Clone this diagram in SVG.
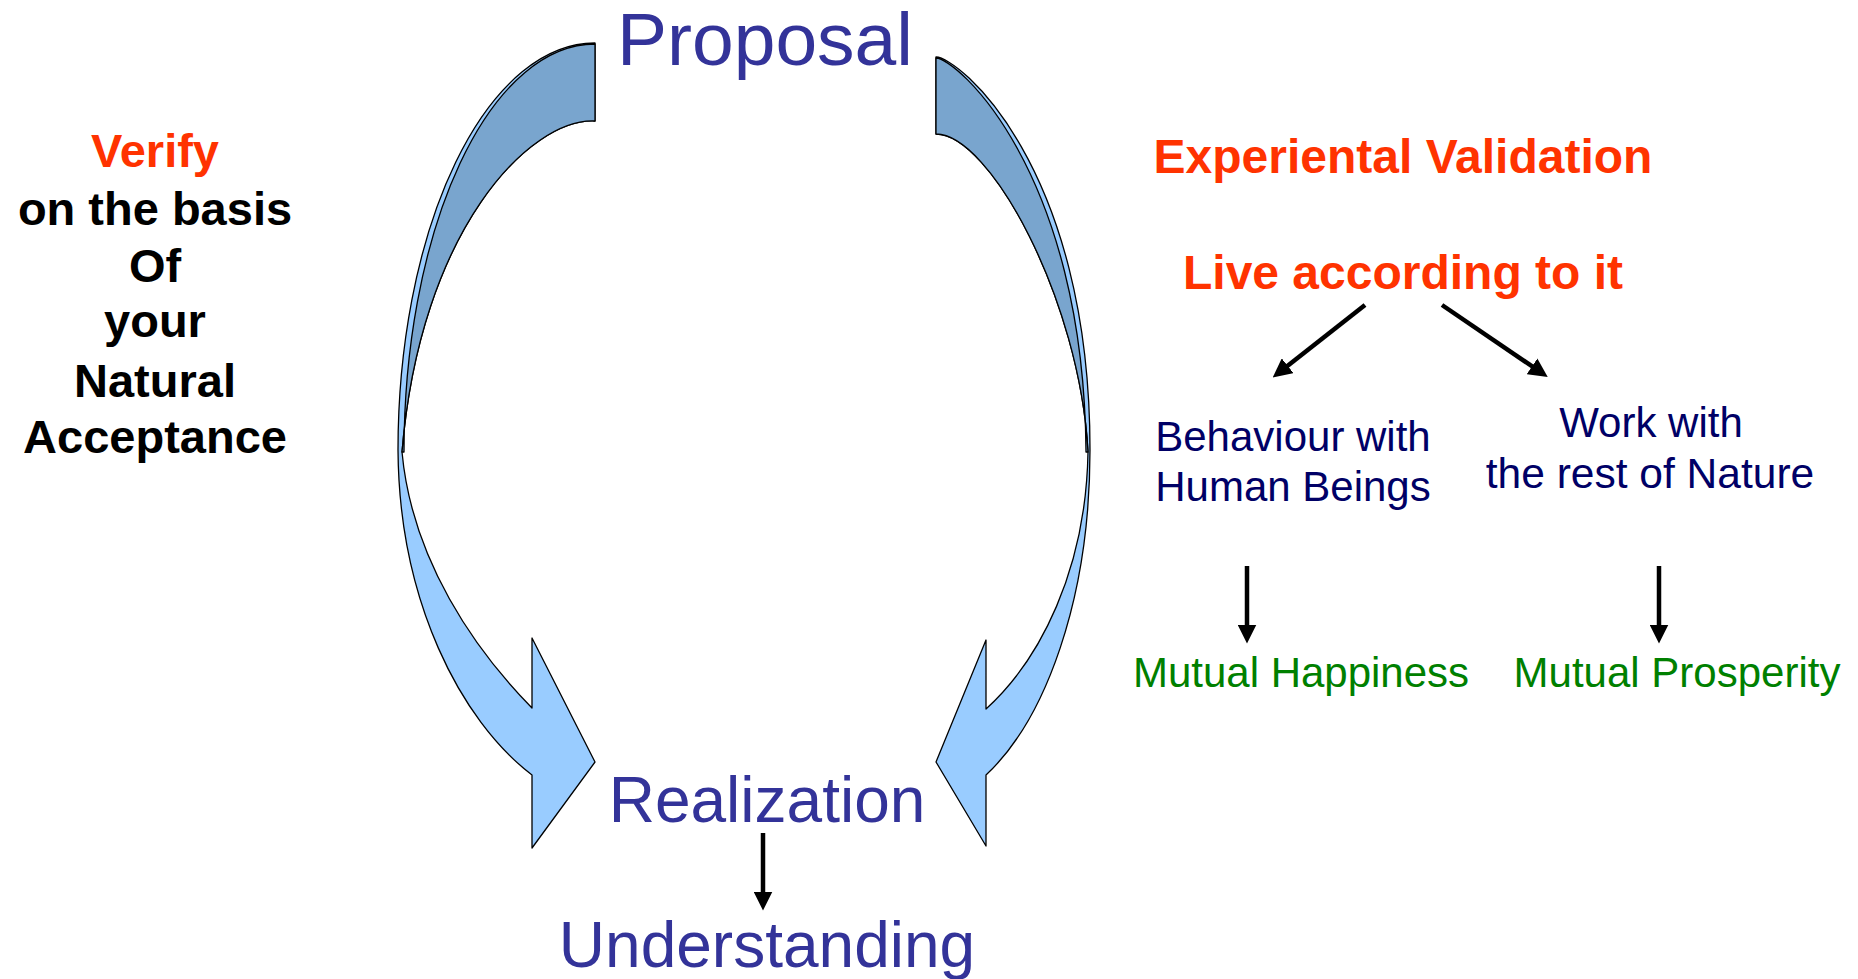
<svg xmlns="http://www.w3.org/2000/svg" width="1858" height="979" viewBox="0 0 1858 979">
<style>
.light{fill:#99CCFF;stroke:#000;stroke-width:1.3;stroke-linejoin:round}
.dark{fill:#79A5CE;stroke:#000;stroke-width:1.3;stroke-linejoin:round}
.big{font-family:"Liberation Sans",Arial,sans-serif;fill:#333399;text-anchor:middle}
.bold{font-family:"Liberation Sans",Arial,sans-serif;font-weight:bold;font-size:47px;text-anchor:middle}
.red{fill:#FF3300}
.blk{fill:#000}
.navy{font-family:"Liberation Sans",Arial,sans-serif;font-size:42px;fill:#000066;text-anchor:middle}
.green{font-family:"Liberation Sans",Arial,sans-serif;font-size:42px;fill:#008000;text-anchor:middle}
.conn{stroke:#000;stroke-width:4.5;fill:none;marker-end:url(#ah)}
</style>
<defs>
<marker id="ah" viewBox="0 0 18 18" refX="8" refY="9" markerWidth="19" markerHeight="19" markerUnits="userSpaceOnUse" orient="auto">
<path d="M0,0 L18,9 L0,18 Z" fill="#000"/>
</marker>
</defs>
<rect width="1858" height="979" fill="#fff"/>
<g id="left-arrow">
<path class="light" d="M595,43 A197 407 0 0 0 398,450 C399,600 460,720 532,775 L532,848 L595,762 L532,638 L532,708 C475,650 412,560 402,452 C420,230 530,118 595,121 Z"/>
<path class="dark" d="M595,44 A191 408 0 0 0 404,452 L402,452 C420,230 530,118 595,121 Z"/>
</g>
<g id="right-arrow">
<path class="light" d="M936,57 C958,57 1090,165 1090,450 C1090,600 1045,720 986,775 L986,846 L936,762 L986,640 L986,709 C1040,660 1086,570 1088,452 C1080,300 990,134 936,134 Z"/>
<path class="dark" d="M936,58 C956,58 1084,170 1086,452 L1088,452 C1080,300 990,134 936,134 Z"/>
</g>
<g id="proposal"><text class="big" x="765" y="65" font-size="75">Proposal</text></g>
<g id="realization"><text class="big" x="767" y="822" font-size="64">Realization</text></g>
<g id="understanding"><text class="big" x="767" y="967" font-size="64">Understanding</text></g>
<g id="verify">
<text class="bold red" x="155" y="167">Verify</text>
<text class="bold blk" x="155" y="225">on the basis</text>
<text class="bold blk" x="155" y="282">Of</text>
<text class="bold blk" x="155" y="337">your</text>
<text class="bold blk" x="155" y="397">Natural</text>
<text class="bold blk" x="155" y="453">Acceptance</text>
</g>
<g id="experiential"><text class="bold red" x="1403" y="173" style="font-size:48px">Experiental Validation</text></g>
<g id="live"><text class="bold red" x="1403" y="289" style="font-size:48px">Live according to it</text></g>
<g id="behaviour">
<text class="navy" x="1293" y="451">Behaviour with</text>
<text class="navy" x="1293" y="501">Human Beings</text>
</g>
<g id="work">
<text class="navy" x="1651" y="437">Work with</text>
<text class="navy" x="1650" y="488" style="font-size:42.5px">the rest of Nature</text>
</g>
<g id="happiness"><text class="green" x="1301" y="687">Mutual Happiness</text></g>
<g id="prosperity"><text class="green" x="1677" y="687">Mutual Prosperity</text></g>
<g id="connectors">
<line class="conn" x1="763" y1="833" x2="763" y2="900"/>
<line class="conn" x1="1365" y1="305" x2="1281" y2="371"/>
<line class="conn" x1="1442" y1="305" x2="1539" y2="371"/>
<line class="conn" x1="1247" y1="566" x2="1247" y2="633"/>
<line class="conn" x1="1659" y1="566" x2="1659" y2="633"/>
</g>
</svg>
